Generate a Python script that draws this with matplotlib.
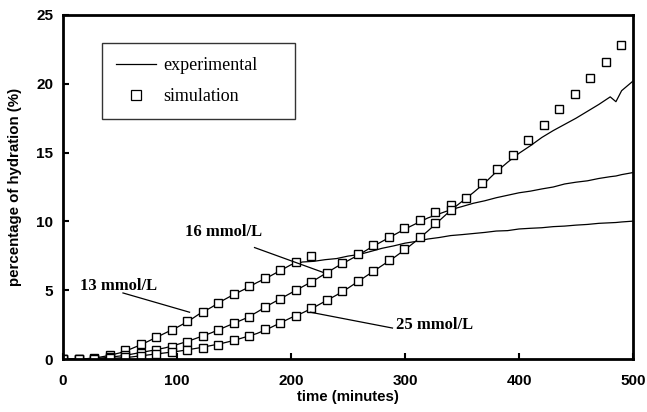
import matplotlib
matplotlib.use("Agg")
import matplotlib.pyplot as plt
from matplotlib.lines import Line2D

# simulation time points (minutes)
sim_t = [0, 13.6, 27.2, 40.8, 54.4, 68, 81.6, 95.2, 108.8, 122.4, 136, 149.6,
         163.2, 176.8, 190.4, 204, 217.6, 231.2, 244.8, 258.4, 272, 285.6,
         299.2, 312.8, 326.4, 340, 353.6, 367.2, 380.8, 394.4, 408, 421.6,
         435.2, 448.8, 462.4, 476, 489.6]
sim_13 = [0, 0, 0.05, 0.3, 0.65, 1.09, 1.62, 2.1, 2.76, 3.44, 4.05, 4.7, 5.3,
          5.86, 6.47, 7.03, 7.49]
sim_16 = [0, 0, 0.02, 0.15, 0.3, 0.46, 0.65, 0.9, 1.26, 1.67, 2.1, 2.59, 3.07,
          3.75, 4.33, 5.0, 5.6, 6.27, 6.95, 7.63, 8.26, 8.89, 9.5, 10.07,
          10.66, 11.22]
sim_25 = [0, 0, 0, 0.07, 0.15, 0.25, 0.38, 0.48, 0.65, 0.82, 1.05, 1.35, 1.7,
          2.15, 2.64, 3.12, 3.68, 4.29, 4.96, 5.69, 6.42, 7.2, 7.97, 8.89,
          9.86, 10.8, 11.68, 12.77, 13.8, 14.8, 15.9, 17.0, 18.15, 19.26,
          20.4, 21.6, 22.8]

# experimental curves (minutes)
exp_t = [0, 10, 20, 30, 40, 50, 60, 70, 80, 90, 100, 110, 120, 130, 140, 150,
         160, 170, 180, 190, 200, 210, 220, 230, 240, 250, 260, 270, 280, 290,
         300, 310, 320, 330, 340, 350, 360, 370, 380, 390, 400, 410, 420, 430,
         440, 450, 460, 470, 480, 485, 490, 500]
exp_13 = [0, 0, 0.02, 0.1, 0.25, 0.45, 0.75, 1.1, 1.5, 1.9, 2.3, 2.75, 3.3,
          3.75, 4.25, 4.7, 5.1, 5.55, 5.95, 6.4, 6.85, 7.05, 7.1, 7.22, 7.3,
          7.48, 7.6, 7.82, 8.05, 8.22, 8.42, 8.55, 8.72, 8.83, 8.97, 9.04,
          9.12, 9.2, 9.3, 9.33, 9.45, 9.5, 9.54, 9.62, 9.66, 9.73, 9.78, 9.86,
          9.9, 9.92, 9.96, 10.02]
exp_16 = [0, 0, 0, 0.05, 0.12, 0.22, 0.35, 0.5, 0.65, 0.82, 1.05, 1.3, 1.6,
          1.9, 2.25, 2.6, 2.95, 3.4, 3.9, 4.35, 4.8, 5.25, 5.7, 6.2, 6.7,
          7.15, 7.6, 8.1, 8.55, 9.0, 9.45, 9.85, 10.25, 10.55, 10.85, 11.08,
          11.32, 11.5, 11.72, 11.9, 12.08, 12.2, 12.36, 12.5, 12.72, 12.85,
          12.95, 13.12, 13.25, 13.3, 13.4, 13.55]
exp_25 = [0, 0, 0, 0, 0.03, 0.08, 0.15, 0.25, 0.35, 0.45, 0.55, 0.68, 0.82,
          0.98, 1.15, 1.35, 1.6, 1.85, 2.2, 2.6, 3.0, 3.35, 3.75, 4.2, 4.65,
          5.15, 5.7, 6.25, 6.8, 7.35, 7.95, 8.6, 9.3, 10.05, 10.8, 11.45, 12.1,
          12.8, 13.6, 14.3, 14.95, 15.5, 16.1, 16.6, 17.05, 17.5, 18.0, 18.5,
          19.05, 18.7, 19.5, 20.2]

fig = plt.figure(figsize=(6.47, 4.12), dpi=100)
ax = fig.add_axes([0.0974, 0.1286, 0.881, 0.835])

for y in (exp_13, exp_16, exp_25):
    ax.plot(exp_t, y, color="black", lw=0.9)

for y in (sim_13, sim_16, sim_25):
    ax.plot(sim_t[:len(y)], y, ls="none", marker="s", ms=5.5, mfc="white",
            mec="black", mew=1.0)

ax.set_xlim(0, 500)
ax.set_ylim(0, 25)
ax.set_xticks([0, 100, 200, 300, 400, 500])
ax.set_yticks([0, 5, 10, 15, 20, 25])
for s in ax.spines.values():
    s.set_linewidth(2)
ax.tick_params(direction="in", length=4, width=1.5)
ax.tick_params(axis="x", pad=11)
ax.tick_params(axis="y", pad=7)
for lab in ax.get_xticklabels() + ax.get_yticklabels():
    lab.set_fontfamily("Liberation Sans")
    lab.set_fontweight("bold")
    lab.set_fontsize(11)

ax.set_xlabel("time (minutes)", family="Liberation Sans", weight="bold",
              fontsize=10.8, labelpad=1)
ax.set_ylabel("percentage of hydration (%)", family="Liberation Sans",
              weight="bold", fontsize=10.8, labelpad=10)

# legend
handles = [Line2D([], [], color="black", lw=0.9),
           Line2D([], [], ls="none", marker="s", ms=6.5, mfc="white",
                  mec="black", mew=0.9)]
leg = ax.legend(handles, ["experimental", "simulation"], loc="upper left",
                bbox_to_anchor=(0.068, 0.703, 0.339, 0.216), mode="expand",
                frameon=True, fancybox=False, edgecolor="black",
                prop={"family": "Liberation Serif", "size": 13},
                handlelength=2.2, borderpad=0.8, labelspacing=0.75,
                handletextpad=0.4, borderaxespad=0)
leg.get_frame().set_linewidth(1.0)

# curve labels
lab_font = dict(family="Liberation Serif", weight="bold", fontsize=12)
ax.text(15, 5.3, "13 mmol/L", va="center", **lab_font)
ax.plot([52.6, 111], [4.8, 3.4], color="black", lw=0.9)
ax.text(107, 9.2, "16 mmol/L", va="center", **lab_font)
ax.plot([168, 228], [8.1, 6.3], color="black", lw=0.9)
ax.text(292, 2.47, "25 mmol/L", va="center", **lab_font)
ax.plot([217, 289], [3.4, 2.25], color="black", lw=0.9)

fig.savefig("out.png", dpi=100)
